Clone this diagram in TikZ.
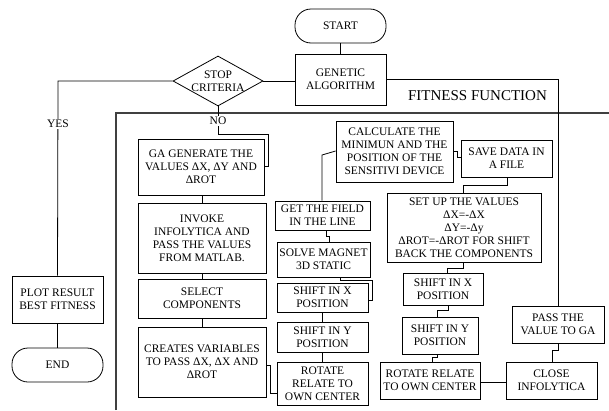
\documentclass[tikz,border=0pt]{standalone}
\usepackage{fontspec}
\setmainfont{Liberation Serif}
\usetikzlibrary{shapes.geometric}
\tikzset{
  box/.style={draw, line width=0.8pt, rectangle, align=center, inner sep=0pt,
    font=\fontsize{11.5}{13}\selectfont},
  term/.style={box, rounded corners=16pt},
  conn/.style={line width=0.8pt},
  frame/.style={line width=1.1pt, black!75},
  lbl/.style={font=\fontsize{11.5}{13}\selectfont, inner sep=1pt, fill=white},
}
\begin{document}
\begin{tikzpicture}[x=1pt,y=-1pt]
\useasboundingbox (0,0) rectangle (609,410);
% left column
\node[term, minimum width=91pt, minimum height=34pt] (start) at (340.5,26) {START};
\node[box, minimum width=91pt, minimum height=51pt] (ga) at (340.5,79.5) {GENETIC\\ALGORITHM};
\node[diamond, draw, line width=0.8pt, minimum width=90pt, minimum height=50pt, inner sep=0pt] (stop) at (218,81) {};
\node[font=\fontsize{11.5}{13}\selectfont, align=center, inner sep=0pt] (stoptxt) at (218,81) {STOP\\CRITERIA};
\node[box, minimum width=91pt, minimum height=47pt] (plot) at (57.5,299.5) {PLOT RESULT\\BEST FITNESS};
\node[term, minimum width=91pt, minimum height=34pt] (end) at (57.5,365) {END};
% fitness column 1
\node[box, minimum width=126pt, minimum height=56pt] (gagen) at (201,167) {GA GENERATE THE\\VALUES ΔX, ΔY AND\\ΔROT};
\node[box, minimum width=128pt, minimum height=70pt] (invoke) at (202,238) {INVOKE\\INFOLYTICA AND\\PASS THE VALUES\\FROM MATLAB.};
\node[box, minimum width=128pt, minimum height=39pt] (select) at (202,298.5) {SELECT\\COMPONENTS};
\node[box, minimum width=128pt, minimum height=70pt] (creates) at (202,362) {CREATES VARIABLES\\TO PASS ΔX, ΔX AND\\ΔROT};
% column 2
\node[box, minimum width=95pt, minimum height=29pt] (get) at (322.5,215.5) {GET THE FIELD\\IN THE LINE};
\node[box, minimum width=93pt, minimum height=35pt] (solve) at (323.5,259.5) {SOLVE MAGNET\\3D STATIC};
\node[box, minimum width=91pt, minimum height=29pt] (shxa) at (322.5,297.5) {SHIFT IN X\\POSITION};
\node[box, minimum width=91pt, minimum height=30pt] (shya) at (322.5,337) {SHIFT IN Y\\POSITION};
\node[box, minimum width=91pt, minimum height=43pt] (rota) at (322.5,383.5) {ROTATE\\RELATE TO\\OWN CENTER};
% column 3
\node[box, minimum width=117pt, minimum height=61pt] (calc) at (394.5,151.5) {CALCULATE THE\\MINIMUN AND THE\\POSITION OF THE\\SENSITIVI DEVICE};
\node[box, minimum width=91pt, minimum height=37pt] (save) at (506.5,158.5) {SAVE DATA IN\\A FILE};
\node[box, minimum width=154pt, minimum height=69pt] (setup) at (464,227.5) {SET UP THE VALUES\\ΔX=-ΔX\\ΔY=-Δy\\ΔROT=-ΔROT FOR SHIFT\\BACK THE COMPONENTS};
\node[box, minimum width=80pt, minimum height=32pt] (shxb) at (443,289) {SHIFT IN X\\POSITION};
\node[box, minimum width=76pt, minimum height=37pt] (shyb) at (440,335.5) {SHIFT IN Y\\POSITION};
\node[box, minimum width=100pt, minimum height=37pt] (rotb) at (430,380.5) {ROTATE RELATE\\TO OWN CENTER};
\node[box, minimum width=91pt, minimum height=37pt] (close) at (551.5,380.5) {CLOSE\\INFOLYTICA};
\node[box, minimum width=92pt, minimum height=37pt] (pass) at (558,324.5) {PASS THE\\VALUE TO GA};
% fitness frame
\coordinate (fbl) at (116,410);
\coordinate (ftl) at (116,113);
\coordinate (ftr) at (609,113);
\draw[frame] (fbl) -- (ftl) -- (ftr);
\node[font=\fontsize{15}{17}\selectfont, inner sep=0pt] (fitlbl) at (477.5,96) {FITNESS FUNCTION};
% connectors
\draw[conn] (start.south) -- (ga.north);
\draw[conn] (stop.east) -- (ga.west |- stop.east);
\draw[conn] (ga.east) -- (558,79.5) -- (pass.north);
\draw[conn] (stop.west) -- (58,81) -- (plot.north);
\node[lbl] (yes) at (58,124) {YES};
\draw[conn] (plot.south) -- (end.north);
\draw[conn] (stop.south) -- (218,134) -- (268,134) -- (268,166) -- (gagen.east |- 0,166);
\node[lbl] (no) at (218,121) {NO};
\draw[conn] (gagen.south -| invoke.north) -- (invoke.north);
\draw[conn] (invoke.south) -- (select.north);
\draw[conn] (select.south) -- (creates.north);
\draw[conn] (creates.east |- 0,365) -- (270,365) -- (270,393) -- (rota.west |- 0,393);
\draw[conn] (rota.north) -- (shya.south);
\draw[conn] (shya.north) -- (shxa.south);
\draw[conn] (solve.south -| 340,0) -- (340,280) -- (372,280) -- (372,300) -- (shxa.east |- 0,300);
\draw[conn] (get.south -| 326,0) -- (326,236) -- (329,236) -- (solve.north -| 329,0);
\draw[conn] (get.north -| 322,0) -- (322,155) -- (calc.west |- 0,151);
\draw[conn] (calc.east |- 0,151) -- (457,151) -- (457,157) -- (save.west |- 0,157);
\draw[conn] (save.south -| 507,0) -- (507,185) -- (463,185) -- (setup.north -| 463,0);
\draw[conn] (setup.south -| 463,0) -- (463,268) -- (447,268) -- (shxb.north -| 447,0);
\draw[conn] (shxb.south -| 448,0) -- (448,310) -- (437,310) -- (shyb.north -| 437,0);
\draw[conn] (shyb.south -| 437,0) -- (437,357) -- (432,357) -- (rotb.north -| 432,0);
\draw[conn] (rotb.east |- 0,382) -- (close.west |- 0,382);
\draw[conn] (close.north -| 552,0) -- (552,350) -- (558,350) -- (pass.south);
\end{tikzpicture}
\end{document}
